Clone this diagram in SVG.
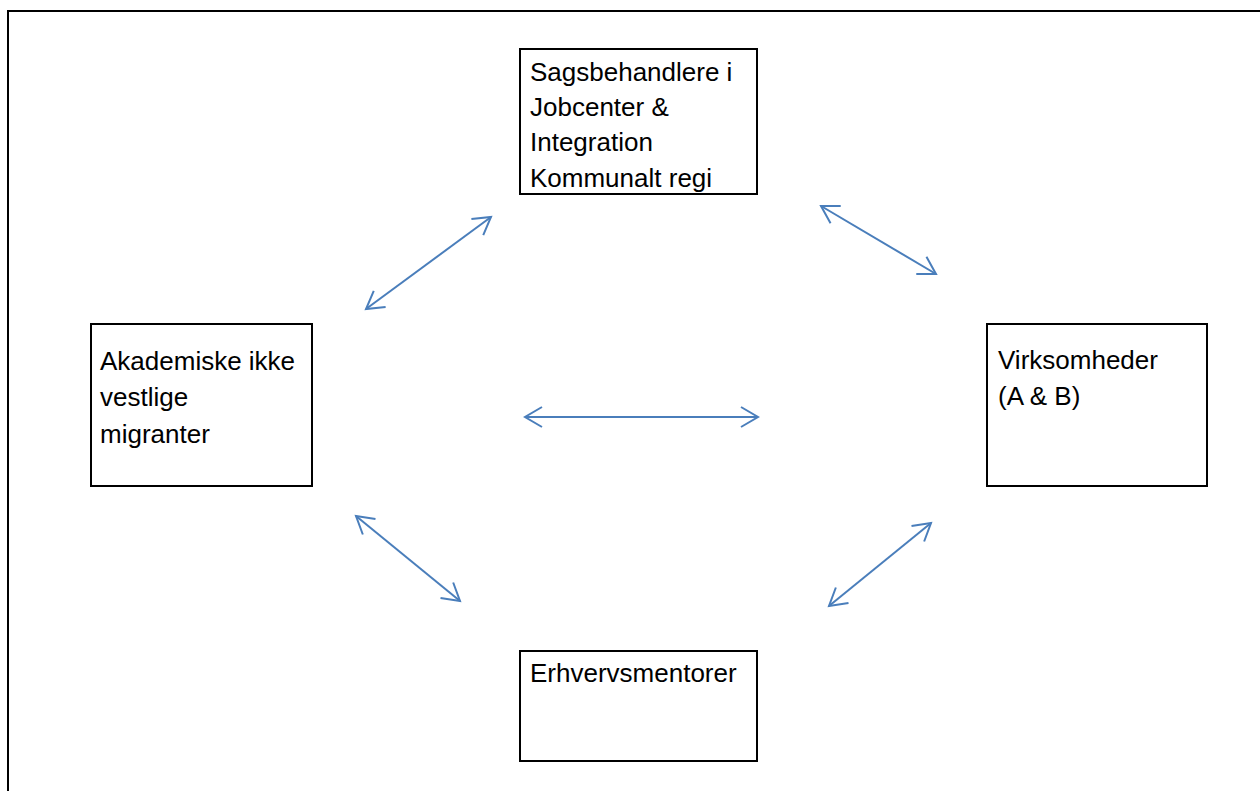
<svg xmlns="http://www.w3.org/2000/svg" width="1260" height="791" viewBox="0 0 1260 791">
<style>
.box{fill:#fff;stroke:#000;stroke-width:2}
.t{font-family:"Liberation Sans",Arial,sans-serif;font-size:26px;fill:#000}
.c{stroke:#4a7ebb;stroke-width:2;fill:none;marker-start:url(#ah);marker-end:url(#ah)}
</style>
<defs>
<marker id="ah" markerUnits="userSpaceOnUse" viewBox="-20 -12 24 24" refX="0" refY="0" markerWidth="24" markerHeight="24" orient="auto-start-reverse">
<path d="M-17,-10 L0,0 L-17,10" fill="none" stroke="#4a7ebb" stroke-width="2"/>
</marker>
</defs>
<rect width="1260" height="791" fill="#fff"/>
<path d="M8,800 V11 H1270" fill="none" stroke="#000" stroke-width="2"/>
<g id="connectors">
<line class="c" x1="366" y1="309" x2="491" y2="217"/>
<line class="c" x1="821" y1="206" x2="936" y2="274"/>
<line class="c" x1="525" y1="417" x2="758" y2="417"/>
<line class="c" x1="356" y1="516" x2="460" y2="601"/>
<line class="c" x1="931" y1="523" x2="829" y2="606"/>
</g>
<g id="sagsbehandlere">
<rect class="box" x="520" y="49" width="237" height="145"/>
<text class="t" x="530" y="81">Sagsbehandlere i</text>
<text class="t" x="530" y="116">Jobcenter &amp;</text>
<text class="t" x="530" y="151">Integration</text>
<text class="t" x="530" y="187">Kommunalt regi</text>
</g>
<g id="akademiske">
<rect class="box" x="91" y="324" width="221" height="162"/>
<text class="t" x="100" y="370">Akademiske ikke</text>
<text class="t" x="100" y="406">vestlige</text>
<text class="t" x="100" y="443">migranter</text>
</g>
<g id="virksomheder">
<rect class="box" x="987" y="324" width="220" height="162"/>
<text class="t" x="998" y="369">Virksomheder</text>
<text class="t" x="998" y="405">(A &amp; B)</text>
</g>
<g id="erhvervsmentorer">
<rect class="box" x="520" y="651" width="237" height="110"/>
<text class="t" x="530" y="682">Erhvervsmentorer</text>
</g>
</svg>
